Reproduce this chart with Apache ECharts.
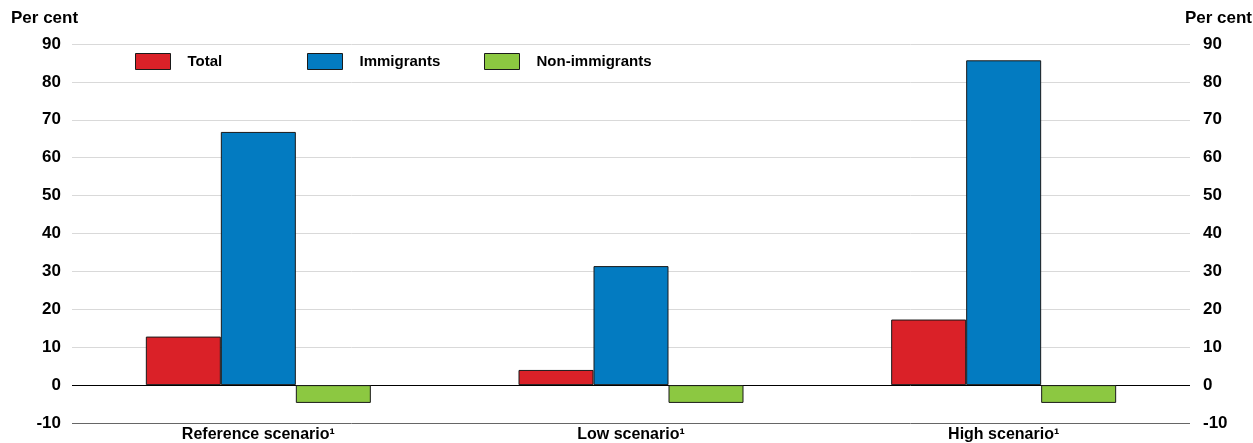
<!DOCTYPE html>
<html>
<head>
<meta charset="utf-8">
<script src="https://cdn.jsdelivr.net/npm/echarts@6/dist/echarts.min.js"></script>
<style>
  html, body { margin: 0; padding: 0; background: #fff; }
  #chart { width: 1253px; height: 443px; }
</style>
</head>
<body>
<div id="chart"></div>
<script>
// Scenario categories and per cent values for each population group
const categories = ['Reference scenario\u00B9', 'Low scenario\u00B9', 'High scenario\u00B9'];
const totalValues = [12.8, 4.0, 17.3];
const immigrantValues = [66.8, 31.4, 85.7];
const nonImmigrantValues = [-4.7, -4.7, -4.7];
const seriesNames = ['Total', 'Immigrants', 'Non-immigrants'];
const seriesColors = ['#DA2128', '#037BC1', '#8CC841'];
const yTicks = { min: -10, max: 90, step: 10 };

const FONT = '"Liberation Sans", Arial, sans-serif';
const tickLabel = { fontFamily: FONT, fontWeight: 'bold', fontSize: 17, color: '#000' };

// gridline colours: -10 baseline, 0 line, then light gridlines
const splitColors = ['#666666', '#000000'];
for (let i = 0; i < 9; i++) splitColors.push('#d9d9d9');

function yAxis(position) {
  return {
    type: 'value',
    position: position,
    min: yTicks.min,
    max: yTicks.max,
    interval: yTicks.step,
    axisLine: { show: false },
    axisTick: { show: false },
    axisLabel: Object.assign({ margin: position === 'left' ? 11 : 13,
      align: position === 'left' ? 'right' : 'left' }, tickLabel),
    splitLine: { show: position === 'left', lineStyle: { color: splitColors, width: 1 } }
  };
}

const dataSets = [totalValues, immigrantValues, nonImmigrantValues];
const series = dataSets.map((vals, i) => ({
  name: seriesNames[i],
  type: 'bar',
  yAxisIndex: 0,
  data: vals,
  barWidth: 75,
  barGap: '0%',
  itemStyle: { color: seriesColors[i], borderColor: '#1a1a1a', borderWidth: 1 },
  emphasis: { disabled: true }
}));

const legendLeft = [135, 307, 484];
const legends = seriesNames.map((n, i) => ({
  data: [n],
  left: legendLeft[i],
  top: 53,
  padding: 0,
  itemWidth: 35,
  itemHeight: 16,
  icon: 'rect',
  itemStyle: { borderColor: '#1a1a1a', borderWidth: 1 },
  textStyle: { fontFamily: FONT, fontWeight: 'bold', fontSize: 15, color: '#000', padding: [0, 0, 0, 12] },
  selectedMode: false
}));

const chart = echarts.init(document.getElementById('chart'), null, { renderer: 'canvas' });
chart.setOption({
  animation: false,
  backgroundColor: '#fff',
  grid: { left: 72, right: 63, top: 44, bottom: 19, containLabel: false },
  legend: legends,
  graphic: [
    { type: 'text', left: 11, top: 10, style: { text: 'Per cent', font: 'bold 17px ' + FONT, fill: '#000' } },
    { type: 'text', right: 1, top: 10, style: { text: 'Per cent', font: 'bold 17px ' + FONT, fill: '#000' } }
  ],
  xAxis: {
    type: 'category',
    data: categories,
    axisLine: { show: false },
    axisTick: { show: false },
    axisLabel: Object.assign({ margin: 4 }, tickLabel, { fontSize: 16 }),
    splitLine: { show: false }
  },
  yAxis: [yAxis('left'), yAxis('right')],
  series: series
});
</script>
</body>
</html>
